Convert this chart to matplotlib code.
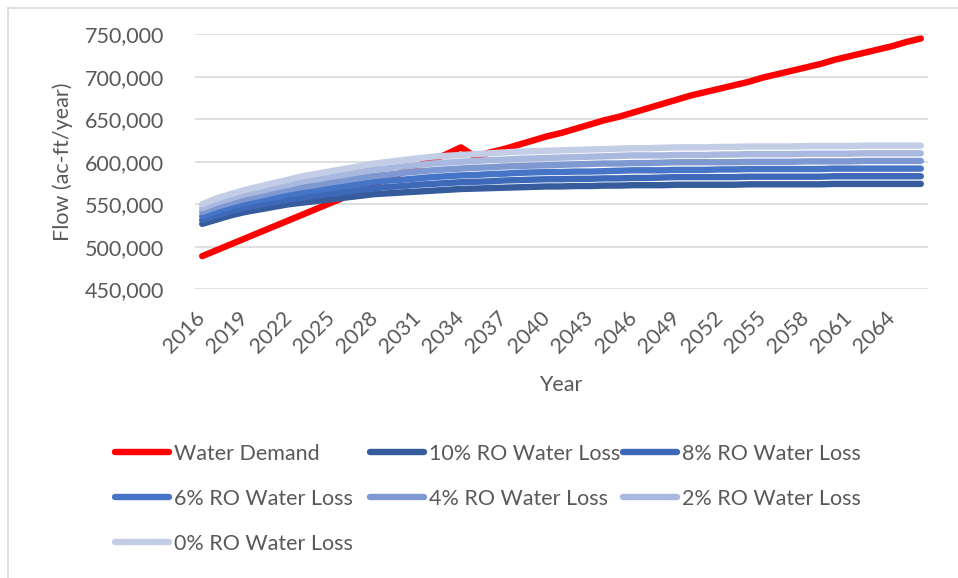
import numpy as np
import matplotlib
matplotlib.use("Agg")
import matplotlib.pyplot as plt
from matplotlib.lines import Line2D
from matplotlib.ticker import FuncFormatter

plt.rcParams['font.family'] = ['Lato', 'DejaVu Sans']

years = list(range(2016, 2067))

# values in thousand ac-ft/year
water_demand = [489, 496, 503, 510, 517, 524, 531, 538, 545, 552, 559, 566, 574, 581, 588, 595, 602, 609, 617,
                606, 611, 615, 620, 625, 630, 634, 639, 644, 649, 653, 658, 663, 668, 673, 678,
                682, 686, 690, 694, 699, 703, 707, 711, 715, 720, 724, 728, 732, 736, 741, 745]
loss_10 = [527, 532, 537, 541, 544, 547, 550, 552, 554, 556, 558, 560, 562, 563, 564, 565, 566, 567, 568,
           568.5, 569, 569.5, 570, 570.5, 571, 571, 571.5, 571.5, 572, 572, 572.5, 572.5, 572.5, 573, 573,
           573, 573, 573, 573.5, 573.5, 573.5, 573.5, 573.5, 573.5, 574, 574, 574, 574, 574, 574, 574]
loss_8 = [531.5, 537, 542, 546, 549.5, 552.5, 556, 558, 560.5, 562.5, 565, 567, 569, 570.5, 571.5, 573, 574, 575, 576,
          576.5, 577, 578, 578.5, 579, 579.5, 579.5, 580, 580, 580.5, 580.5, 581, 581, 581.5, 582, 582,
          582, 582, 582, 582.5, 582.5, 582.5, 582.5, 582.5, 582.5, 583, 583, 583, 583, 583, 583, 583]
loss_6 = [536, 542, 547, 551.5, 555, 558, 561.5, 564.5, 567, 569, 571.5, 574, 576.5, 578, 579, 580.5, 582, 583, 584,
          584.5, 585.5, 586, 587, 587.5, 588, 588, 588.5, 588.5, 589, 589.5, 590, 590, 590, 590.5, 590.5,
          590.5, 591, 591, 591.5, 591.5, 591.5, 591.5, 591.5, 591.5, 592, 592, 592, 592, 592, 592, 592]
loss_4 = [541, 547, 552, 556.5, 560, 564, 567.5, 570.5, 573, 576, 578.5, 581, 583.5, 585, 587, 588.5, 590, 591, 592,
          593, 593.5, 594.5, 595, 595.5, 596, 596.5, 597, 597.5, 598, 598, 598.5, 598.5, 599, 599.5, 599.5,
          599.5, 599.5, 599.5, 600, 600, 600, 600, 600.5, 600.5, 600.5, 600.5, 601, 601, 601, 601, 601]
loss_2 = [545.5, 552, 557, 562, 565.5, 569.5, 573, 577, 579.5, 582.5, 585, 588, 591, 592.5, 594.5, 596, 598, 599, 600,
          601, 602, 602.5, 603.5, 604, 604.5, 605, 605.5, 606, 606.5, 607, 607.5, 607.5, 607.5, 608, 608,
          608, 608.5, 608.5, 609, 609, 609, 609, 609.5, 609.5, 609.5, 609.5, 610, 610, 610, 610, 610]
loss_0 = [550, 557, 562, 567, 571, 575, 579, 583, 586, 589, 592, 595, 598, 600, 602, 604, 606, 607, 608,
          609, 610, 611, 612, 612.5, 613, 613.5, 614, 614.5, 615, 615.5, 616, 616, 616.5, 617, 617,
          617, 617.5, 617.5, 618, 618, 618, 618, 618.5, 618.5, 618.5, 618.5, 619, 619, 619, 619, 619]

series = [
    ("Water Demand", water_demand, "#FF0000"),
    ("10% RO Water Loss", loss_10, "#365C9E"),
    ("8% RO Water Loss", loss_8, "#3D69B8"),
    ("6% RO Water Loss", loss_6, "#4674C6"),
    ("4% RO Water Loss", loss_4, "#7E98D1"),
    ("2% RO Water Loss", loss_2, "#A9B8DE"),
    ("0% RO Water Loss", loss_0, "#C3CDE6"),
]

txt = "#595959"
fs = 15.5
W, H = 958, 578
fig = plt.figure(figsize=(W / 100, H / 100), dpi=100)
ax = fig.add_axes([195 / W, 1 - 289.3 / H, 733 / W, 255 / H])

handles = {}
for name, vals, col in series:
    h, = ax.plot(years, np.array(vals) * 1000, color=col, lw=4.6,
                 solid_capstyle='round', solid_joinstyle='round')
    handles[name] = h

ax.set_xlim(2015.5, 2066.5)
ax.set_ylim(450000, 750000)
ax.set_yticks(np.arange(450000, 750001, 50000))
ax.yaxis.set_major_formatter(FuncFormatter(lambda v, p: f"{int(v):,}"))
ax.set_xticks(years[::3])
ax.set_xticklabels([str(y) for y in years[::3]], rotation=45, ha='right',
                   va='center', rotation_mode='anchor')
ax.tick_params(axis='both', length=0, labelsize=fs, colors=txt)
ax.tick_params(axis='x', pad=18)
ax.tick_params(axis='y', pad=22)
ax.grid(axis='y', color='#D9D9D9', lw=1.2)
ax.set_axisbelow(True)
for s in ax.spines.values():
    s.set_visible(False)

fig.text(63 / W, 1 - 162 / H, "Flow (ac-ft/year)", rotation=90, ha='center', va='center',
         fontsize=fs, color=txt)
fig.text(561 / W, 1 - 385 / H, "Year", ha='center', va='center', fontsize=fs, color=txt)

# Excel fills the legend row by row: one single-column legend per column
cols = [(115, ["Water Demand", "6% RO Water Loss", "0% RO Water Loss"]),
        (370, ["10% RO Water Loss", "4% RO Water Loss"]),
        (623, ["8% RO Water Loss", "2% RO Water Loss"])]
for x0, names in cols:
    leg = fig.legend([handles[n] for n in names], names, loc='upper left',
                     bbox_to_anchor=(x0 / W, 1 - 444 / H), frameon=False,
                     fontsize=fs, handlelength=2.5, handletextpad=0.25,
                     labelspacing=1.15, borderpad=0, borderaxespad=0)
    for t in leg.get_texts():
        t.set_color(txt)

# chart border
fig.add_artist(Line2D([8 / W, 8 / W], [0, 1 - 8 / H], color='#D9D9D9', lw=1.2))
fig.add_artist(Line2D([8 / W, 1], [1 - 8 / H, 1 - 8 / H], color='#D9D9D9', lw=1.2))

fig.savefig("out.png", dpi=100)
